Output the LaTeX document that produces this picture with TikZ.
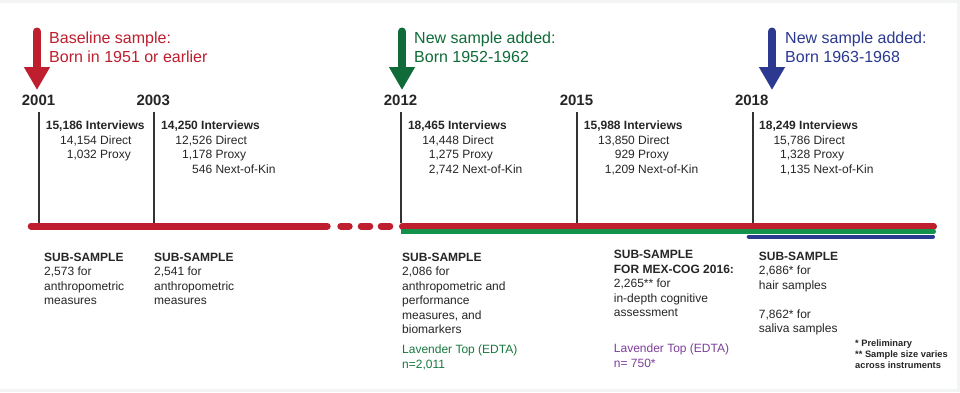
\documentclass[tikz,border=0pt]{standalone}
\usepackage{fontspec}
\setmainfont{Liberation Sans}
\usetikzlibrary{arrows.meta}

\definecolor{wavered}{HTML}{BE1E2D}
\definecolor{wavegreen}{HTML}{0F6B38}
\definecolor{bargreen}{HTML}{12924A}
\definecolor{waveblue}{HTML}{2B3990}
\definecolor{edtagreen}{HTML}{17793F}
\definecolor{edtapurple}{HTML}{7D3F9C}
\definecolor{tickgray}{HTML}{333333}
\definecolor{inkgray}{HTML}{262626}
\definecolor{framegray}{HTML}{F3F4F4}

% number right-aligned, then its kind
\newcommand{\cnt}[2]{\makebox[51pt][r]{#1} #2}

\begin{document}
\begin{tikzpicture}[x=1pt,y=-1pt,
    bigarrow/.style={line width=8pt, line cap=round, -{Triangle[width=24.5pt,length=23pt]}},
    wavetext/.style={font=\fontsize{16}{19}\selectfont, align=left, inner sep=0pt, anchor=base west},
    year/.style={font=\fontsize{15}{18}\selectfont\bfseries, text=inkgray, inner sep=0pt, anchor=base west},
    info/.style={font=\fontsize{12}{14.5}\selectfont, text=inkgray, align=left, inner sep=0pt, anchor=base west},
    note/.style={font=\fontsize{9.3}{11}\selectfont\bfseries, text=inkgray, align=left, inner sep=0pt, anchor=base west},
    tick/.style={tickgray, line width=1.2pt}]

        \fill[framegray] (0,0) rectangle (960,392);
        \fill[white] (0,3) rectangle (957,389);

        % arrows for the three samples
        \coordinate (a2001) at (37,31.5);  \coordinate (h2001) at (37,90);
        \coordinate (a2012) at (402,31.5); \coordinate (h2012) at (402,90);
        \coordinate (a2018) at (772,31.5); \coordinate (h2018) at (772,90);
        \draw[bigarrow, wavered] (a2001) -- (h2001);
        \draw[bigarrow, wavegreen] (a2012) -- (h2012);
        \draw[bigarrow, waveblue] (a2018) -- (h2018);

        % (multi-line nodes sit on the baseline of their last line)
        \node[wavetext, text=wavered] (w2001) at (49,62) {Baseline sample:\\Born in 1951 or earlier};
        \node[wavetext, text=wavegreen] (w2012) at (414,62) {New sample added:\\Born 1952-1962};
        \node[wavetext, text=waveblue] (w2018) at (785,62) {New sample added:\\Born 1963-1968};

        % years
        \node[year] (y2001) at (21.7,105) {2001};
        \node[year] (y2003) at (136.3,105) {2003};
        \node[year] (y2012) at (383.7,105) {2012};
        \node[year] (y2015) at (559.6,105) {2015};
        \node[year] (y2018) at (734.8,105) {2018};

        % ticks down to the bar
        \coordinate (t2001) at (39,112);  \coordinate (b2001) at (39,223);
        \coordinate (t2003) at (154,112); \coordinate (b2003) at (154,223);
        \coordinate (t2012) at (401,112); \coordinate (b2012) at (401,223);
        \coordinate (t2015) at (577,112); \coordinate (b2015) at (577,223);
        \coordinate (t2018) at (753,112); \coordinate (b2018) at (753,223);
        \draw[tick] (t2001) -- (b2001);
        \draw[tick] (t2003) -- (b2003);
        \draw[tick] (t2012) -- (b2012);
        \draw[tick] (t2015) -- (b2015);
        \draw[tick] (t2018) -- (b2018);

        % bars
        \draw[wavered, line width=7pt, line cap=round] (31.2,226) -- (327.2,226);
        \draw[wavered, line width=7pt, line cap=round] (340.8,226) -- (349.2,226);
        \draw[wavered, line width=7pt, line cap=round] (361.2,226) -- (369.8,226);
        \draw[wavered, line width=7pt, line cap=round] (381.2,226) -- (389.8,226);
        \draw[wavered, line width=7pt, line cap=round] (402.5,226) -- (933.5,226);
        \draw[bargreen, line width=5pt] (400.5,231.5) -- (933.5,231.5);
        \fill[bargreen] (933.5,231.5) circle (2.5pt);
        \draw[waveblue, line width=4pt, line cap=round] (748.7,236.5) -- (933,236.5);

        % interviews
        \node[info] (i2001) at (45.7,158.5) {\textbf{15,186 Interviews}\\\cnt{14,154}{Direct}\\\cnt{1,032}{Proxy}};
        \node[info] (i2003) at (161,173) {\textbf{14,250 Interviews}\\\cnt{12,526}{Direct}\\\cnt{1,178}{Proxy}\\\cnt{546}{Next-of-Kin}};
        \node[info] (i2012) at (407.8,173) {\textbf{18,465 Interviews}\\\cnt{14,448}{Direct}\\\cnt{1,275}{Proxy}\\\cnt{2,742}{Next-of-Kin}};
        \node[info] (i2015) at (583.7,173) {\textbf{15,988 Interviews}\\\cnt{13,850}{Direct}\\\cnt{929}{Proxy}\\\cnt{1,209}{Next-of-Kin}};
        \node[info] (i2018) at (759,173) {\textbf{18,249 Interviews}\\\cnt{15,786}{Direct}\\\cnt{1,328}{Proxy}\\\cnt{1,135}{Next-of-Kin}};

        % sub-samples
        \node[info] (s2001) at (44,304.5) {\textbf{SUB-SAMPLE}\\2,573 for\\anthropometric\\measures};
        \node[info] (s2003) at (154,304.5) {\textbf{SUB-SAMPLE}\\2,541 for\\anthropometric\\measures};
        \node[info] (s2012) at (402,333.5) {\textbf{SUB-SAMPLE}\\2,086 for\\anthropometric and\\performance\\measures, and\\biomarkers};
        \node[info] (s2016) at (613.7,316.5) {\textbf{SUB-SAMPLE}\\\textbf{FOR MEX-COG 2016:}\\2,265** for\\in-depth cognitive\\assessment};
        \node[info] (s2018) at (758.7,332.5) {\textbf{SUB-SAMPLE}\\2,686* for\\hair samples\\[14.5pt]7,862* for\\saliva samples};

        \node[info, text=edtagreen] (l2012) at (402,368) {Lavender Top (EDTA)\\n=2,011};
        \node[info, text=edtapurple] (l2016) at (613.7,367.2) {Lavender Top (EDTA)\\n= 750*};

        \node[note] (fn) at (855,368.7) {* Preliminary\\** Sample size varies\\across instruments};

\end{tikzpicture}
\end{document}
